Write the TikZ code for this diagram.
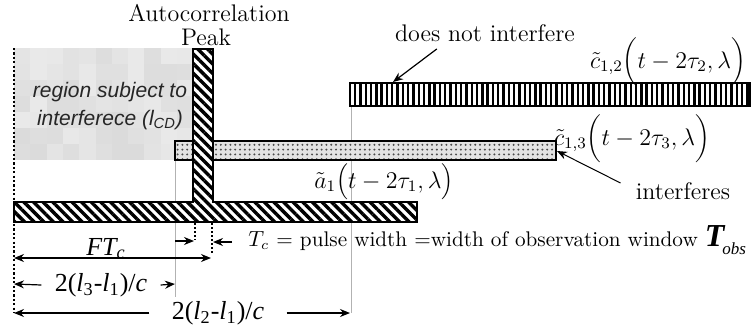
\documentclass[tikz,border=0pt]{standalone}
\usepackage{fontspec}
\newfontfamily\arialf{Liberation Sans}
\newfontfamily\timesf{Liberation Serif}
\usetikzlibrary{patterns.meta,arrows.meta}
\begin{document}
\begin{tikzpicture}[x=0.5pt,y=-0.5pt,
  every node/.style={font=\fontsize{12}{14}\selectfont, inner sep=0pt},
  bar/.style={draw=black, line width=1.1pt},
  thinline/.style={draw=gray!60, line width=0.5pt},
  dotv/.style={draw=black, line width=1.1pt, dash pattern=on 1.1pt off 1.1pt},
  arr/.style={-{Stealth[length=5pt,width=4pt]}, line width=0.6pt},
  arrs/.style={{Stealth[length=5pt,width=4pt]}-{Stealth[length=5pt,width=4pt]}, line width=0.6pt},
  timesl/.style={font=\timesf\fontsize{13}{13}\selectfont},
]
\useasboundingbox (0,0) rectangle (753,332);
% gray region
\pgfmathsetseed{12}
\foreach \i in {0,...,10}{\foreach \j in {0,...,6}{
  \pgfmathtruncatemacro\s{17+12*rnd}
  \fill[gray!\s] ({14+\i*16.3},{48+\j*16}) rectangle ++(16.3,16);}}
% thin guide lines
\draw[thinline] (351,106) -- (351,313);
\draw[thinline] (175,160) -- (175,297);
% left dotted line
\draw[dotv] (14,48) -- (14,313);
% c13 dotted bar
\path[bar, preaction={fill=gray!22}, pattern={Dots[distance=2.4pt,radius=0.55pt]}, pattern color=black!70] (175,141) rectangle (556,160);
% T-shaped bar (main + peak)
\draw[bar, preaction={fill=white}, pattern={Lines[angle=-45,distance=3.4pt,line width=1.7pt]}]
  (14,202) -- (193,202) -- (193,49) -- (213,49) -- (213,202) -- (417,202) -- (417,222) -- (14,222) -- cycle;
% c12 bar
\draw[bar, preaction={fill=white}, pattern={Lines[angle=90,distance=2.65pt,line width=1.2pt]}] (350,83) rectangle (750,106);
% small dotted verticals
\draw[dotv, line width=0.9pt, dash pattern=on 0.9pt off 1.1pt] (195,223) -- (195,240);
\draw[dotv, line width=0.9pt, dash pattern=on 0.9pt off 1.1pt] (212,223) -- (212,253);

% coordinates
\coordinate (c12a) at (393,82);
\coordinate (c13e) at (557,151);
\coordinate (pkL) at (194,241);
\coordinate (pkR) at (213,242);
\coordinate (L1) at (14,258);
\coordinate (R1) at (211,258);
\coordinate (L2) at (14,284);
\coordinate (R2) at (175,284);
\coordinate (L3) at (14,313);
\coordinate (R3) at (350,313);

% labels
\node (acp1) at (209,13) {Autocorrelation};
\node (acp2) at (206,37) {Peak};
\node (dni) at (485,33) {does not interfere};
\draw[arr] ([shift={(42,7)}]dni.south west) -- (c12a);
\node (c12l) at (668,62) {$\tilde{c}_{1,2}\bigg(t-2\tau_{2},\lambda\bigg)$};
\node (c13l) at (632,139) {$\tilde{c}_{1,3}\bigg(t-2\tau_{3},\lambda\bigg)$};
\node (al) at (384,182) {$\tilde{a}_{1}\Big(t-2\tau_{1},\lambda\Big)$};
\node (intf) at (683,191) {interferes};
\draw[arr, line width=0.5pt] ([shift={(-15,-8)}]intf.west) -- (c13e);
\node[align=center, text=black!85, font=\arialf\itshape\fontsize{10.5}{14}\selectfont] (reg) at (110,106) {region subject to\\interferece (l\textsubscript{CD})};

% pulse-width line
\node[anchor=base west, font=\fontsize{10.6}{12}\selectfont] (tc) at (248,246) {$T_c$ = pulse width =width of observation window {\timesf\bfseries\itshape\fontsize{16}{16}\selectfont T}\kern-1pt\raisebox{-4pt}{\timesf\itshape\fontsize{8.5}{9}\selectfont obs}};
\coordinate (tcs) at (175,241);
\draw[arr] (tcs) -- (pkL);
\draw[arr] ([xshift=-8pt]tc.west |- pkR) -- (pkR);

% FT_c
\draw[arrs] (L1) -- (R1);
\node[anchor=base, font=\timesf\itshape\fontsize{13}{13}\selectfont] (ftc) at (106,255) {FT\textsubscript{c}};

% 2(l3-l1)/c
\node[timesl] (l31) at (101,285) {2(\textit{l}\textsubscript{3}-\textit{l}\textsubscript{1})/\textit{c}};
\draw[arr] ([xshift=-6.5pt]l31.west) -- (L2);
\draw[arr] ([xshift=6.5pt]l31.east) -- (R2);

% 2(l2-l1)/c
\node[timesl] (l21) at (218,313) {2(\textit{l}\textsubscript{2}-\textit{l}\textsubscript{1})/\textit{c}};
\draw[arr] ([xshift=-11pt]l21.west) -- (L3);
\draw[arr] ([xshift=11pt]l21.east) -- (R3);
\end{tikzpicture}
\end{document}
